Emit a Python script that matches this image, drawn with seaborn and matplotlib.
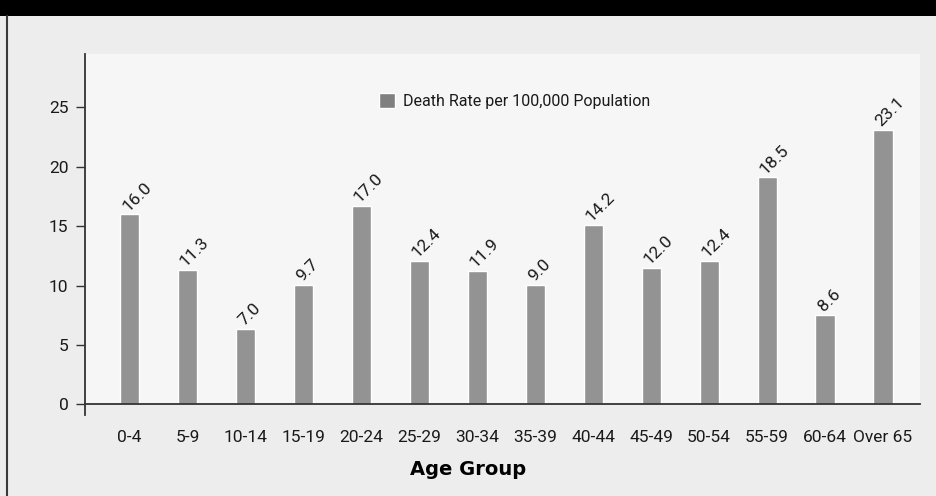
import matplotlib
matplotlib.use("Agg")
import matplotlib.pyplot as plt
import pandas as pd
import seaborn as sns

age_groups = ["0-4", "5-9", "10-14", "15-19", "20-24", "25-29", "30-34",
              "35-39", "40-44", "45-49", "50-54", "55-59", "60-64", "Over 65"]
# bar heights as drawn in the picture (they don't always match the printed labels)
bar_heights = [16.0, 11.3, 6.35, 10.05, 16.7, 12.1, 11.25, 10.05, 15.1, 11.5, 12.1, 19.1, 7.55, 23.1]
rate_labels = ["16.0", "11.3", "7.0", "9.7", "17.0", "12.4", "11.9", "9.0",
               "14.2", "12.0", "12.4", "18.5", "8.6", "23.1"]
y_ticks = [0, 5, 10, 15, 20, 25]
series_name = "Death Rate per 100,000 Population"

sns.set_theme(style="white")
plt.rcParams["font.family"] = ["Roboto", "DejaVu Sans"]

df = pd.DataFrame({"age": age_groups, "rate": bar_heights})

fig = plt.figure(figsize=(9.36, 4.96), dpi=100, facecolor="#ededed")
ax = fig.add_axes([85 / 936, 1 - 404.3 / 496, 835 / 936, 350.3 / 496])
ax.set_facecolor("#f6f6f6")

sns.barplot(data=df, x="age", y="rate", color="#939393", saturation=1,
            width=0.33, label=series_name, ax=ax)

for i, (h, txt) in enumerate(zip(bar_heights, rate_labels)):
    ax.annotate(txt, (i, h), xytext=(-1, 2), textcoords="offset points",
                rotation=45, rotation_mode="anchor", ha="left", va="baseline",
                fontsize=12.5, color="#1a1a1a")

ax.set_xlim(-0.767, 13.638)
ax.set_ylim(0, 29.5)
ax.set_yticks(y_ticks)
ax.tick_params(axis="y", length=6.5, width=1, color="#333333", pad=5.5,
               labelsize=12.5, labelcolor="#1a1a1a", left=True)
ax.tick_params(axis="x", length=0, pad=18.5, labelsize=12.5, labelcolor="#1a1a1a")
ax.set_ylabel("")
ax.set_xlabel("Age Group", fontsize=14, fontweight="bold", family="DejaVu Sans",
              color="black")
# the title sits at the middle of the whole picture, not of the axes
ax.xaxis.set_label_coords((468 - 85) / 835, -0.158)

for s in ["top", "right"]:
    ax.spines[s].set_visible(False)
for s in ["left", "bottom"]:
    ax.spines[s].set_color("#333333")
    ax.spines[s].set_linewidth(1.3)
ax.spines["left"].set_bounds(-0.93, 29.5)

leg = ax.legend(loc="upper left", bbox_to_anchor=(0.352, 0.888), frameon=False,
                fontsize=11.5, handlelength=0.98, handleheight=1.0,
                handletextpad=0.5, borderpad=0, borderaxespad=0)
for hnd in leg.legend_handles:
    hnd.set_facecolor("#808080")
for t in leg.get_texts():
    t.set_color("#1a1a1a")

# black band on top and left border line
fig.patches.append(plt.Rectangle((0, 1 - 16 / 496), 1, 16 / 496, transform=fig.transFigure,
                                 facecolor="black", edgecolor="none"))
fig.lines.append(plt.Line2D([7.5 / 936, 7.5 / 936], [0, 1 - 16 / 496], transform=fig.transFigure,
                            color="#3a3a3a", linewidth=1.5))

fig.savefig("out.png", dpi=100, facecolor=fig.get_facecolor())
